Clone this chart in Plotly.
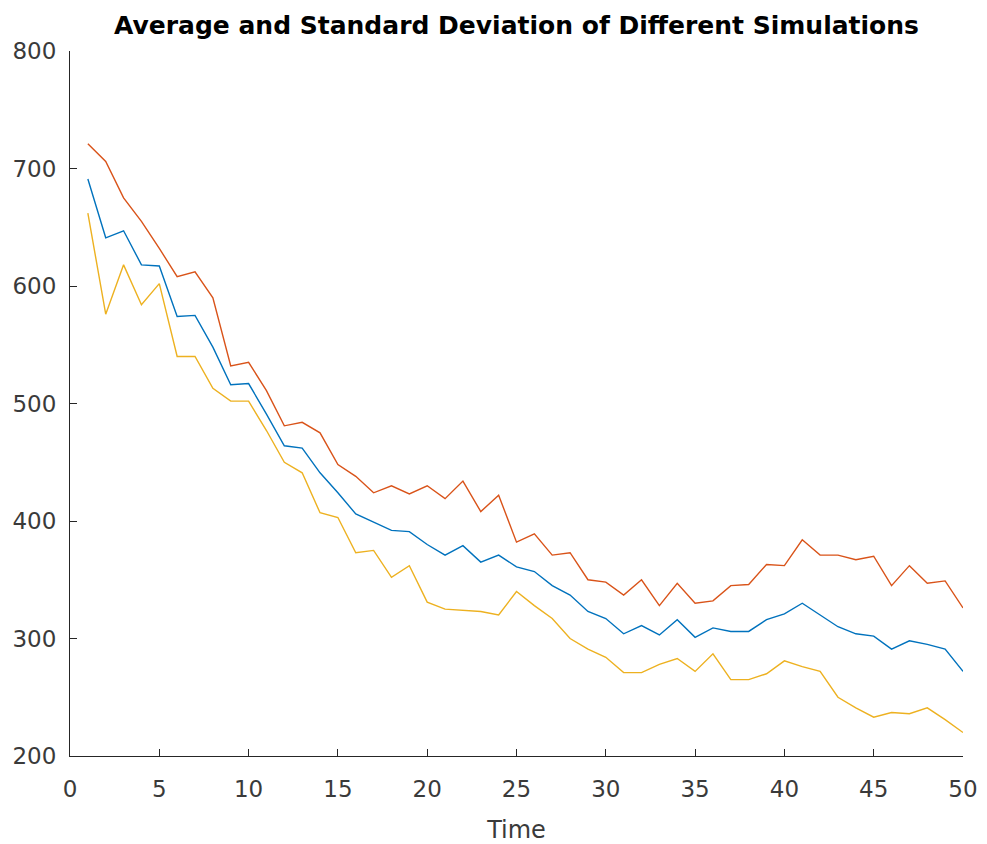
import plotly.graph_objects as go

# Time steps and the three curves (mean + std, mean, mean - std)
time = list(range(1, 51))

upper = [721, 706, 675, 655, 632, 608, 612, 590, 532, 535,
         511, 481, 484, 475, 448, 438, 424, 430, 423, 430,
         419, 434, 408, 422, 382, 389, 371, 373, 350, 348,
         337, 350, 328, 347, 330, 332, 345, 346, 363, 362,
         384, 371, 371, 367, 370, 345, 362, 347, 349, 326]

average = [691, 641, 647, 618, 617, 574, 575, 548, 516, 517,
           491, 464, 462, 441, 424, 406, 399, 392, 391, 380,
           371, 379, 365, 371, 361, 357, 345, 337, 323, 317,
           304, 311, 303, 316, 301, 309, 306, 306, 316, 321,
           330, 320, 310, 304, 302, 291, 298, 295, 291, 272]

lower = [662, 576, 618, 584, 602, 540, 540, 513, 502, 502,
         477, 450, 441, 407, 403, 373, 375, 352, 362, 331,
         325, 324, 323, 320, 340, 328, 317, 300, 291, 284,
         271, 271, 278, 283, 272, 287, 265, 265, 270, 281,
         276, 272, 250, 241, 233, 237, 236, 241, 231, 220]

x_ticks = list(range(0, 51, 5))
y_ticks = list(range(200, 801, 100))

AXIS_COLOR = "#262626"
LABEL_COLOR = "#3a3a3a"
FONT = "DejaVu Sans, Arial, sans-serif"

fig = go.Figure()
fig.add_trace(go.Scatter(x=time, y=average, mode="lines",
                         line=dict(color="#0072BD", width=1.4)))
fig.add_trace(go.Scatter(x=time, y=upper, mode="lines",
                         line=dict(color="#D95319", width=1.4)))
fig.add_trace(go.Scatter(x=time, y=lower, mode="lines",
                         line=dict(color="#EDB120", width=1.4)))

fig.update_layout(
    width=987, height=844,
    margin=dict(l=70, r=24, t=51, b=88),
    paper_bgcolor="white", plot_bgcolor="white",
    showlegend=False,
    font=dict(family=FONT, color=LABEL_COLOR),
    title=dict(
        text="<b>Average and Standard Deviation of Different Simulations</b>",
        x=0.5, xref="paper", xanchor="center",
        y=1 - 25 / 844, yref="container", yanchor="middle",
        font=dict(family=FONT, size=25, color="#000000"),
    ),
)

fig.update_xaxes(
    range=[0, 50], tickvals=x_ticks, automargin=False,
    ticks="inside", ticklen=7, tickwidth=1, tickcolor=AXIS_COLOR,
    showline=True, linecolor=AXIS_COLOR, linewidth=1,
    showgrid=False, zeroline=False, mirror=False,
    tickfont=dict(family=FONT, size=23, color=LABEL_COLOR),
    ticklabelstandoff=12,
    title=dict(text="Time", font=dict(family=FONT, size=24, color=LABEL_COLOR),
               standoff=20),
)
fig.update_yaxes(
    range=[200, 800], tickvals=y_ticks, automargin=False,
    ticks="inside", ticklen=7, tickwidth=1, tickcolor=AXIS_COLOR,
    showline=True, linecolor=AXIS_COLOR, linewidth=1,
    showgrid=False, zeroline=False, mirror=False,
    tickfont=dict(family=FONT, size=23, color=LABEL_COLOR),
    ticklabelstandoff=8,
)

fig.write_html("out.html")
